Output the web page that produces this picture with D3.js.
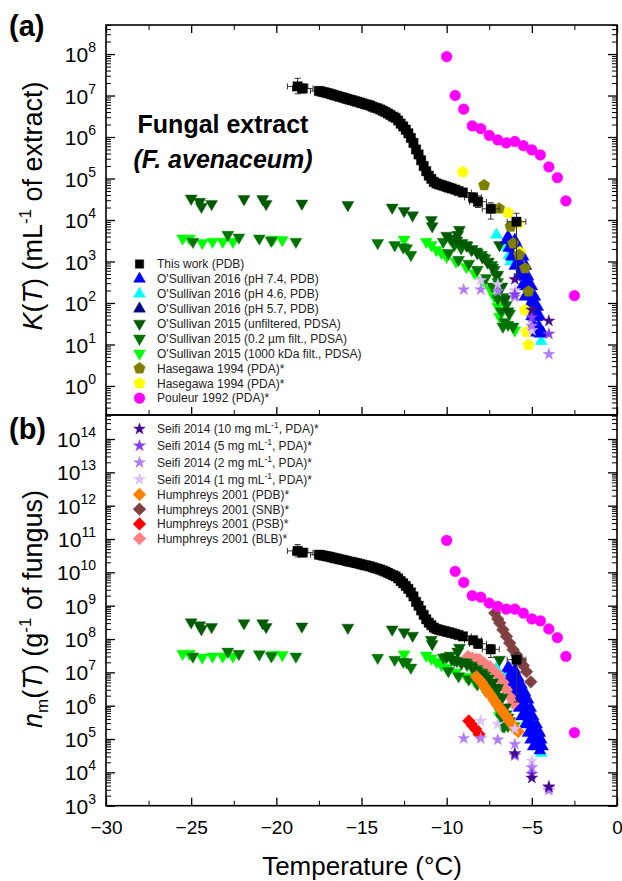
<!DOCTYPE html>
<html><head><meta charset="utf-8">
<script src="https://cdn.jsdelivr.net/npm/d3@7"></script>
<style>
body{margin:0;background:#fff}
svg{display:block}
text{font-family:Arial,"Liberation Sans",sans-serif}
</style>
</head><body>
<svg id="c" width="622" height="881"></svg>
<script>
// ---------------- DATA ----------------
const xTickValues = [-30,-25,-20,-15,-10,-5,0];
const yExpA = [0,1,2,3,4,5,6,7,8];
const yExpB = [3,4,5,6,7,8,9,10,11,12,13,14];

// This work (PDB)
const thisWorkT = [-18.75,-18.45,
 -17.5,-17.35,-17.2,-17.05,-16.9,-16.75,-16.6,-16.45,-16.3,-16.15,-16.0,-15.85,-15.7,-15.55,-15.4,-15.25,-15.1,-14.95,-14.8,-14.65,-14.5,-14.35,-14.2,-14.05,-13.9,-13.75,-13.6,-13.45,-13.3,-13.15,-13.0,-12.85,-12.7,-12.55,-12.4,-12.25,-12.1,-11.95,-11.8,-11.65,-11.5,-11.35,-11.2,-11.05,-10.9,-10.75,-10.6,-10.45,-10.3,
 -10.15,-10.0,-9.85,-9.7,-9.5,-9.3,-9.05,-8.45,-8.16,-7.41,-5.9];
const thisWorkK = [1.66e7,1.48e7,
 1.29e7,1.245e7,1.2e7,1.16e7,1.12e7,1.07e7,1.02e7,9.9e6,9.4e6,9.1e6,8.7e6,8.3e6,8.0e6,7.7e6,7.4e6,7.1e6,6.8e6,6.5e6,6.2e6,6.0e6,5.75e6,5.4e6,5.1e6,4.9e6,4.6e6,4.3e6,4.0e6,3.7e6,3.4e6,3.1e6,2.9e6,2.5e6,2.1e6,1.8e6,1.5e6,1.23e6,9.5e5,7.2e5,5.0e5,3.8e5,2.75e5,2.0e5,1.5e5,1.17e5,9.8e4,8.3e4,7.6e4,7.2e4,6.9e4,
 6.6e4,6.3e4,6.0e4,5.75e4,5.4e4,5.0e4,4.6e4,3.5e4,2.75e4,1.86e4,9.1e3];
const thisWorkN = [4.4e10,3.9e10,
 3.39e10,3.27e10,3.16e10,3.05e10,2.95e10,2.81e10,2.68e10,2.6e10,2.47e10,2.39e10,2.29e10,2.18e10,2.1e10,2.03e10,1.95e10,1.87e10,1.79e10,1.71e10,1.63e10,1.58e10,1.51e10,1.42e10,1.34e10,1.29e10,1.21e10,1.13e10,1.05e10,9.7e9,8.9e9,8.2e9,7.6e9,6.6e9,5.5e9,4.7e9,3.9e9,3.2e9,2.5e9,1.9e9,1.3e9,1.0e9,7.2e8,5.3e8,3.9e8,3.1e8,2.6e8,2.2e8,2.0e8,1.9e8,1.8e8,
 1.74e8,1.66e8,1.58e8,1.51e8,1.42e8,1.32e8,1.2e8,9.2e7,7.2e7,4.9e7,2.4e7];
// error bars: [T, value, dT, low, high]
const thisWorkErrA = [[-18.75,1.66e7,0.6,1.1e7,2.6e7],[-18.45,1.48e7,0.6,1.15e7,1.9e7],[-17.5,1.29e7,0.5,null,null],[-17.2,1.2e7,0.45,null,null],[-10.6,7.6e4,0.4,6.5e4,8.8e4],[-10.15,6.6e4,0.4,5.6e4,7.6e4],[-9.7,5.75e4,0.4,4.9e4,6.7e4],[-9.3,5.0e4,0.4,4.3e4,5.8e4],[-9.05,4.6e4,0.5,3.8e4,5.5e4],[-8.45,3.5e4,0.5,2.6e4,4.5e4],[-8.16,2.75e4,0.5,2.0e4,3.8e4],[-7.41,1.86e4,0.5,1.05e4,2.6e4],[-5.9,9.1e3,0.55,5.0e2,1.45e4]];
const thisWorkErrB = [[-18.75,4.4e10,0.6,2.9e10,6.8e10],[-18.45,3.9e10,0.6,3.0e10,5.0e10],[-17.5,3.39e10,0.5,null,null],[-17.2,3.16e10,0.45,null,null],[-10.6,2.0e8,0.4,1.7e8,2.3e8],[-10.15,1.74e8,0.4,1.5e8,2.0e8],[-9.7,1.51e8,0.4,1.3e8,1.75e8],[-9.3,1.32e8,0.4,1.13e8,1.52e8],[-9.05,1.2e8,0.5,1.0e8,1.45e8],[-8.45,9.2e7,0.5,6.8e7,1.2e8],[-8.16,7.2e7,0.5,5.3e7,1.0e8],[-7.41,4.9e7,0.5,2.8e7,6.8e7],[-5.9,2.4e7,0.55,1.3e6,3.8e7]];

// O'Sullivan 2016 (pH 7.4): centre line plus the two edges of the band
const os16pH74T = [-6.4,-6.3,-6.2,-6.1,-6.0,-5.9,-5.8,-5.7,-5.6,-5.5,-5.4,-5.3,-5.2,-5.1,-5.0,-4.9,-4.8,-4.7,-4.6,-4.53];
const os16pH74K = [4.0e3,3.2e3,2.6e3,2.2e3,1.9e3,1.6e3,1.3e3,950,710,560,430,330,250,190,140,100,71,45,28,18];
const os16pH74N = [1.4e7,1.26e7,9.5e6,7.6e6,5.9e6,4.3e6,3.2e6,2.3e6,1.7e6,1.26e6,9.3e5,6.8e5,5.0e5,3.7e5,2.7e5,2.0e5,1.4e5,1.0e5,7.1e4,4.5e4];
const os16pH74EdgeTA = [-6.49,-6.35,-6.2,-6.0,-5.8,-5.6,-5.41,-5.2,-5.02,-4.9,-4.76,-6.0,-5.75,-5.51,-5.35,-5.22,-5.0,-4.82,-4.65,-4.53,-4.34];
const os16pH74EdgeK  = [3.3e3,2.1e3,1.3e3,780,430,250,140,80,47,30,19,3.3e3,2.1e3,1.3e3,780,430,250,140,80,47,19];
const os16pH74EdgeTB = [-6.39,-6.3,-6.2,-6.05,-5.9,-5.75,-5.61,-5.4,-5.22,-5.07,-4.92,-6.0,-5.8,-5.61,-5.4,-5.22,-5.07,-4.92,-4.72,-4.53,-4.45,-4.37];
const os16pH74EdgeN  = [1.35e7,7.6e6,4.8e6,2.7e6,1.5e6,8.5e5,4.7e5,2.7e5,1.5e5,9.5e4,5.9e4,1.2e7,7.0e6,4.2e6,2.5e6,1.5e6,8.5e5,4.7e5,2.7e5,1.5e5,9.5e4,5.9e4];
const os16pH46T = [-7.08,-6.45,-6.35,-6.25,-5.2,-4.45];
const os16pH46K = [4.4e3,2.2e3,1.4e3,1.0e3,220,12];
const os16pH46N = [1.3e7,1.0e7,8.0e6,6.5e6,4.5e5,3.8e4];
const os16pH57T = [-6.1,-5.85,-5.55,-5.25,-4.95,-4.7];
const os16pH57K = [2.1e3,1.35e3,620,310,120,48];
const os16pH57N = [7.2e6,4.0e6,1.55e6,6.5e5,2.4e5,9.5e4];

// O'Sullivan 2015
const os15UnfT = [-25,-24.5,-24.4,-23.8,-21.9,-20.8,-20.6,-18.5,-15.8,-13.2,-12.5,-12,-10.9,-10.85,-9.25,-9.35,-6.9,
 -10.0,-9.7,-9.4,-9.1,-8.8,-8.5,-8.2,-7.9,-7.6,-7.3,-7.0,-6.75,-6.55,-6.4];
const os15UnfK = [3.3e4,2.75e4,2.1e4,2.45e4,3.2e4,3.2e4,2.45e4,2.5e4,2.3e4,2.0e4,1.66e4,1.3e4,1.0e4,7.1e3,5.8e3,4.4e3,2.5e3,
 4.2e3,3.5e3,3.2e3,2.8e3,2.4e3,2.0e3,1.6e3,1.26e3,950,710,480,250,126,63];
const os15UnfN = [3.2e8,2.6e8,2.0e8,2.3e8,3.0e8,3.0e8,2.3e8,2.4e8,2.2e8,1.95e8,1.6e8,1.26e8,9.5e7,7.1e7,5.5e7,4.2e7,2.4e7,
 2.9e7,2.45e7,2.2e7,2.0e7,1.7e7,1.4e7,1.1e7,8.8e6,6.6e6,5.0e6,3.4e6,1.75e6,8.8e5,4.4e5];
const os15F02T = [-24.9,-22.85,-22.2,-21.0,-20.3,-18.85,-14.05,-13.05,-12.55,-12.35,-12.1,-10.2,-9.8,-9.55,-9.15,-8.85,-8.55,-8.25,-7.95,-7.75,-7.55,-7.35,-7.2,-7.1,-7.0,-6.9,-6.7,-6.5,-6.3,-6.4,-6.1,-6.7,
 -9.9,-9.3,-8.7,-8.2,-7.7,-7.3,-7.0,-6.8,-6.6];
const os15F02K = [3.0e3,4.4e3,3.8e3,3.6e3,3.2e3,3.0e3,2.8e3,2.5e3,2.2e3,2.1e3,1.45e3,3.0e3,3.6e3,2.5e3,2.1e3,2.5e3,1.9e3,1.75e3,1.45e3,1.2e3,1.0e3,830,630,470,320,220,140,89,56,30,27,27,
 1.6e3,1.1e3,890,630,400,250,126,63,35];
const os15F02N = [3.0e7,4.2e7,3.6e7,3.5e7,3.1e7,3.0e7,2.75e7,2.4e7,2.1e7,2.0e7,1.4e7,2.8e7,3.2e7,2.3e7,1.9e7,2.0e7,1.6e7,1.26e7,1.0e7,7.9e6,6.3e6,5.0e6,3.5e6,2.6e6,1.9e6,1.3e6,8.9e5,5.6e5,3.5e5,2.5e5,2.4e5,2.4e5,
 1.1e7,7.7e6,6.2e6,4.4e6,2.8e6,1.75e6,8.8e5,4.4e5,2.45e5];
const os15KDaT = [-25.5,-25.1,-24.35,-23.75,-23.15,-22.55,-20.2,-19.65,-12.5,-11.2,-10.9,-10.6,-10.3,-10.0,-9.45,-8.85,-8.35,-7.85,-7.45,-7.2,-7.0,-6.9,-6.0];
const os15KDaK = [3.6e3,3.6e3,2.8e3,3.0e3,3.0e3,3.0e3,3.4e3,3.3e3,3.4e3,3.0e3,2.5e3,1.9e3,1.6e3,1.3e3,1.0e3,740,520,350,220,140,81,47,22];
const os15KDaN = [3.6e7,3.6e7,2.8e7,3.0e7,3.0e7,3.0e7,3.4e7,3.3e7,3.5e7,3.2e7,2.6e7,2.1e7,1.66e7,1.35e7,1.0e7,7.4e6,5.2e6,3.5e6,2.2e6,1.4e6,8.3e5,5.0e5,2.5e5];

// Hasegawa 1994
const hasOliveT = [-7.8,-6.92,-6.25,-6.1,-5.75,-5.4,-5.2];
const hasOliveK = [6.9e4,1.9e4,6.9e3,2.75e3,1.45e3,690,190];
const hasYellowT = [-9.05,-6.4,-5.8,-5.7,-5.4,-5.3,-5.2];
const hasYellowK = [1.45e5,1.5e4,8.3e3,1.7e3,68,20,9.8];

// Pouleur 1992
const pouleurT = [-10,-9.5,-9,-8.5,-8,-7.5,-7,-6.5,-6,-5.5,-5,-4.5,-4,-3.5,-3,-2.5];
const pouleurK = [8.7e7,1.0e7,4.7e6,1.86e6,1.6e6,1.1e6,8.5e5,7.2e5,7.8e5,6.2e5,4.9e5,3.7e5,1.9e5,1.05e5,2.9e4,150];
const pouleurN = [9.1e10,1.07e10,5.0e9,2.0e9,1.8e9,1.2e9,9.5e8,7.9e8,7.9e8,6.0e8,4.0e8,3.5e8,2.0e8,1.1e8,3.0e7,1.55e5];

// Seifi 2014
const seifi10T = [-6,-5,-4], seifi10K = [370,68,37], seifi10N = [3.7e4,6.8e3,3.7e3];
const seifi5T = [-6,-5,-4], seifi5K = [160,45,18], seifi5N = [3.2e4,8.9e3,3.5e3];
const seifi2T = [-9,-8,-7,-6,-5,-4], seifi2K = [210,210,190,140,28,5.8], seifi2N = [1.05e5,1.05e5,9.5e4,7.0e4,1.4e4,2.9e3];
const seifi1T = [-8,-7,-6,-5], seifi1K = [350,280,200,22], seifi1N = [3.5e5,2.8e5,2.0e5,2.2e4];

// Humphreys 2001 (panel b only)
const humPDBT = [-8.25,-8.1,-7.95,-7.8,-7.65,-7.5,-7.35,-7.2,-7.05,-6.9,-6.75,-6.6,-6.45,-6.3,-6.15,-6.0,-5.8];
const humPDBN = [7.4e6,6.0e6,5.0e6,3.8e6,3.0e6,2.3e6,1.86e6,1.4e6,1.1e6,8.9e5,7.1e5,5.5e5,4.4e5,3.4e5,2.7e5,2.1e5,1.66e5];
const humSNBT = [-7.18,-7.0,-6.88,-6.7,-6.49,-6.3,-6.1,-5.9,-5.71,-5.5,-5.31,-5.06];
const humSNBN = [6.0e8,4.0e8,3.0e8,1.9e8,1.2e8,7.6e7,4.8e7,3.4e7,2.4e7,1.6e7,1.05e7,5.2e6];
const humPSBT = [-8.7,-8.5,-8.3,-8.1];
const humPSBN = [3.5e5,2.6e5,2.0e5,1.4e5];
const humBLBT = [-8.75,-8.5,-8.25,-8.06,-7.8,-7.47,-7.2,-6.88,-6.7,-6.49,-6.3,-6.1];
const humBLBN = [3.0e7,2.7e7,2.5e7,2.4e7,1.9e7,1.5e7,1.07e7,7.4e6,5.0e6,3.0e6,1.86e6,1.17e6];

// legends
const legendA = [
 ["square","#000000","This work (PDB)"],
 ["triUp","#0000ff","O'Sullivan 2016 (pH 7.4, PDB)"],
 ["triUp","#00ffff","O'Sullivan 2016 (pH 4.6, PDB)"],
 ["triUp","#000080","O'Sullivan 2016 (pH 5.7, PDB)"],
 ["triDown","#005a00","O'Sullivan 2015 (unfiltered, PDSA)"],
 ["triDown","#007400","O'Sullivan 2015 (0.2 \u00b5m filt., PDSA)"],
 ["triDown","#00ff00","O'Sullivan 2015 (1000 kDa filt., PDSA)"],
 ["pentagon","#808000","Hasegawa 1994 (PDA)*"],
 ["pentagon","#ffff00","Hasegawa 1994 (PDA)*"],
 ["circle","#ff00ff","Pouleur 1992 (PDA)*"]
];
const legendB = [
 ["star","#420a8e","Seifi 2014 (10 mg mL^-1^, PDA)*"],
 ["star","#8a3cf0","Seifi 2014 (5 mg mL^-1^, PDA)*"],
 ["star","#b07cf5","Seifi 2014 (2 mg mL^-1^, PDA)*"],
 ["star","#dcc0fb","Seifi 2014 (1 mg mL^-1^, PDA)*"],
 ["diamond","#ff8000","Humphreys 2001 (PDB)*"],
 ["diamond","#804040","Humphreys 2001 (SNB)*"],
 ["diamond","#ff0000","Humphreys 2001 (PSB)*"],
 ["diamond","#ff8080","Humphreys 2001 (BLB)*"]
];

// ---------------- DRAW ----------------
const svg = d3.select('#c');
const X0 = 106, X1 = 617, A_TOP = 25, MID = 415, B_BOT = 805.7;
const x = d3.scaleLinear([-30,0],[X0,X1]);
const yA = d3.scaleLog([Math.pow(10,-0.7), Math.pow(10,8.7)],[MID,A_TOP]);
const yB = d3.scaleLog([1e3, Math.pow(10,14.72)],[B_BOT,MID]);

const pentagonType = {draw(ctx,size){const r=Math.sqrt(size/2.378);for(let i=0;i<5;i++){const a=-Math.PI/2+i*2*Math.PI/5;const px=r*Math.cos(a),py=r*Math.sin(a);if(i===0)ctx.moveTo(px,py);else ctx.lineTo(px,py);}ctx.closePath();}};
const shapeDef = {
  square:  {type:d3.symbolSquare, size:88, rot:0},
  triUp:   {type:d3.symbolTriangle, size:62, rot:0},
  triDown: {type:d3.symbolTriangle, size:62, rot:180},
  pentagon:{type:pentagonType, size:86, rot:0},
  circle:  {type:d3.symbolCircle, size:92, rot:0},
  star:    {type:d3.symbolStar, size:44, rot:0},
  diamond: {type:d3.symbolSquare, size:82, rot:45}
};
function drawSeries(g, ys, T, V, shape, color){
  const s = shapeDef[shape];
  const path = d3.symbol(s.type, s.size)();
  g.append('g').selectAll('path').data(d3.zip(T,V)).join('path')
    .attr('d', path)
    .attr('transform', d => `translate(${x(d[0])},${ys(d[1])}) rotate(${s.rot})`)
    .attr('fill', color).attr('stroke', color).attr('stroke-width', 0.4);
}
function drawErr(g, ys, errs){
  const eg = g.append('g').attr('stroke','#333').attr('stroke-width',1).attr('fill','none');
  errs.forEach(e => {
    const cx = x(e[0]), cy = ys(e[1]);
    const xl = x(e[0]-e[2]), xr = x(e[0]+e[2]);
    eg.append('line').attr('x1',xl).attr('x2',xr).attr('y1',cy).attr('y2',cy);
    eg.append('line').attr('x1',xl).attr('x2',xl).attr('y1',cy-3).attr('y2',cy+3);
    eg.append('line').attr('x1',xr).attr('x2',xr).attr('y1',cy-3).attr('y2',cy+3);
    if (e[3] !== null){
      const yl = ys(e[3]), yh = ys(e[4]);
      eg.append('line').attr('x1',cx).attr('x2',cx).attr('y1',yl).attr('y2',yh);
      eg.append('line').attr('x1',cx-3).attr('x2',cx+3).attr('y1',yl).attr('y2',yl);
      eg.append('line').attr('x1',cx-3).attr('x2',cx+3).attr('y1',yh).attr('y2',yh);
    }
  });
}

function minorsFor(scale){
  const [lo,hi] = scale.domain();
  const out = [];
  for (let e = Math.floor(Math.log10(lo)); e <= Math.ceil(Math.log10(hi)); e++)
    for (let k = 2; k <= 9; k++){ const v = k*Math.pow(10,e); if (v>=lo && v<=hi) out.push(v); }
  return out;
}
function yAxes(ys, exps){
  const majors = exps.map(e => Math.pow(10,e));
  const minors = minorsFor(ys);
  const L = svg.append('g').attr('transform',`translate(${X0},0)`)
    .call(d3.axisLeft(ys).tickValues(majors).tickSize(-9).tickSizeOuter(0).tickPadding(10))
    .attr('font-size',21).attr('font-family','Arial, Liberation Sans, sans-serif');
  L.select('.domain').remove();
  L.selectAll('.tick line').attr('stroke-width',1.3);
  L.selectAll('.tick text').attr('fill','#000').attr('dy','0.36em').each(function(d){
    const t = d3.select(this); const e = Math.round(Math.log10(d));
    t.text(null);
    t.append('tspan').text('10');
    t.append('tspan').attr('dy',-10).attr('font-size',14).text(e);
  });
  const Lm = svg.append('g').attr('transform',`translate(${X0},0)`)
    .call(d3.axisLeft(ys).tickValues(minors).tickSize(-5).tickSizeOuter(0).tickFormat(''));
  Lm.select('.domain').remove();
  const R = svg.append('g').attr('transform',`translate(${X1},0)`)
    .call(d3.axisRight(ys).tickValues(majors).tickSize(-9).tickSizeOuter(0).tickFormat(''));
  R.select('.domain').remove();
  R.selectAll('.tick line').attr('stroke-width',1.3);
  const Rm = svg.append('g').attr('transform',`translate(${X1},0)`)
    .call(d3.axisRight(ys).tickValues(minors).tickSize(-5).tickSizeOuter(0).tickFormat(''));
  Rm.select('.domain').remove();
}
function xAxis(yPos, top, labels){
  const minorVals = d3.range(-27.5, 0, 5);
  const mk = top ? d3.axisTop : d3.axisBottom;
  const g = svg.append('g').attr('transform',`translate(0,${yPos})`)
    .call(mk(x).tickValues(xTickValues).tickSize(-8).tickSizeOuter(0).tickPadding(14.5)
      .tickFormat(labels ? (d => d < 0 ? '\u2212' + Math.abs(d) : String(d)) : ''))
    .attr('font-size',19).attr('font-family','Arial, Liberation Sans, sans-serif');
  g.select('.domain').remove();
  g.selectAll('.tick line').attr('stroke-width',1.3);
  g.selectAll('.tick text').attr('fill','#000');
  const gm = svg.append('g').attr('transform',`translate(0,${yPos})`)
    .call(mk(x).tickValues(minorVals).tickSize(-5).tickSizeOuter(0).tickFormat(''));
  gm.select('.domain').remove();
}

// ----- panel a -----
const gA = svg.append('g');
drawSeries(gA, yA, os15KDaT, os15KDaK, 'triDown', '#00ff00');
drawSeries(gA, yA, os15F02T, os15F02K, 'triDown', '#007400');
drawSeries(gA, yA, os15UnfT, os15UnfK, 'triDown', '#005a00');
drawSeries(gA, yA, os16pH46T, os16pH46K, 'triUp', '#00ffff');
drawSeries(gA, yA, os16pH57T, os16pH57K, 'triUp', '#000080');
drawSeries(gA, yA, os16pH74EdgeTA, os16pH74EdgeK, 'triUp', '#0000ff');
drawSeries(gA, yA, os16pH74T, os16pH74K, 'triUp', '#0000ff');
drawSeries(gA, yA, hasYellowT, hasYellowK, 'pentagon', '#ffff00');
drawSeries(gA, yA, hasOliveT, hasOliveK, 'pentagon', '#808000');
drawSeries(gA, yA, pouleurT, pouleurK, 'circle', '#ff00ff');
drawSeries(gA, yA, seifi1T, seifi1K, 'star', '#dcc0fb');
drawSeries(gA, yA, seifi2T, seifi2K, 'star', '#b07cf5');
drawSeries(gA, yA, seifi5T, seifi5K, 'star', '#8a3cf0');
drawSeries(gA, yA, seifi10T, seifi10K, 'star', '#420a8e');
drawErr(gA, yA, thisWorkErrA);
drawSeries(gA, yA, thisWorkT, thisWorkK, 'square', '#000000');

// ----- panel b -----
const gB = svg.append('g');
drawSeries(gB, yB, os16pH46T, os16pH46N, 'triUp', '#00ffff');
drawSeries(gB, yB, os16pH57T, os16pH57N, 'triUp', '#000080');
drawSeries(gB, yB, os16pH74EdgeTB, os16pH74EdgeN, 'triUp', '#0000ff');
drawSeries(gB, yB, os16pH74T, os16pH74N, 'triUp', '#0000ff');
drawSeries(gB, yB, humBLBT, humBLBN, 'diamond', '#ff8080');
drawSeries(gB, yB, humSNBT, humSNBN, 'diamond', '#804040');
drawSeries(gB, yB, os15KDaT, os15KDaN, 'triDown', '#00ff00');
drawSeries(gB, yB, os15F02T, os15F02N, 'triDown', '#007400');
drawSeries(gB, yB, os15UnfT, os15UnfN, 'triDown', '#005a00');
drawSeries(gB, yB, humPSBT, humPSBN, 'diamond', '#ff0000');
drawSeries(gB, yB, humPDBT, humPDBN, 'diamond', '#ff8000');
drawSeries(gB, yB, pouleurT, pouleurN, 'circle', '#ff00ff');
drawSeries(gB, yB, seifi1T, seifi1N, 'star', '#dcc0fb');
drawSeries(gB, yB, seifi2T, seifi2N, 'star', '#b07cf5');
drawSeries(gB, yB, seifi5T, seifi5N, 'star', '#8a3cf0');
drawSeries(gB, yB, seifi10T, seifi10N, 'star', '#420a8e');
drawErr(gB, yB, thisWorkErrB);
drawSeries(gB, yB, thisWorkT, thisWorkN, 'square', '#000000');

// axes
yAxes(yA, yExpA);
yAxes(yB, yExpB);
xAxis(A_TOP, true, false);
xAxis(MID, false, false);
xAxis(B_BOT, false, true);

// frames
svg.append('rect').attr('x',X0).attr('y',A_TOP).attr('width',X1-X0).attr('height',MID-A_TOP)
  .attr('fill','none').attr('stroke','#000').attr('stroke-width',1.6);
svg.append('rect').attr('x',X0).attr('y',MID).attr('width',X1-X0).attr('height',B_BOT-MID)
  .attr('fill','none').attr('stroke','#000').attr('stroke-width',1.6);

// legends
function drawLegend(items, x0, ys){
  const g = svg.append('g');
  items.forEach((it,i) => {
    const s = shapeDef[it[0]];
    const yy = ys[i];
    const sz = it[0] === 'square' ? 72 : s.size;
    g.append('path').attr('d', d3.symbol(s.type, sz)())
      .attr('transform', `translate(${x0},${yy}) rotate(${s.rot})`)
      .attr('fill', it[1]).attr('stroke', it[1]).attr('stroke-width',0.4);
    const t = g.append('text').attr('x', x0+17.5).attr('y', yy+4.3).attr('font-size',12).attr('fill','#222');
    const parts = it[2].split('^');
    parts.forEach((p,j) => {
      if (j % 2 === 1) t.append('tspan').attr('dy',-5).attr('font-size',8.5).text(p);
      else t.append('tspan').attr('dy', j>0 ? 5 : 0).text(p);
    });
  });
}
drawLegend(legendA, 139.5, legendA.map((d,i) => 264 + i*14.9));
drawLegend(legendB, 139.5, legendB.map((d,i) => i < 4 ? 429 + i*16.8 : 494.5 + (i-4)*14.7));

// panel labels
svg.append('text').attr('x',9).attr('y',36).attr('font-size',29).attr('font-weight','bold').text('(a)');
svg.append('text').attr('x',9).attr('y',439).attr('font-size',29).attr('font-weight','bold').text('(b)');

// inscription
svg.append('text').attr('x',223).attr('y',133).attr('text-anchor','middle').attr('font-size',25).attr('font-weight','bold').text('Fungal extract');
svg.append('text').attr('x',223).attr('y',168).attr('text-anchor','middle').attr('font-size',25).attr('font-weight','bold').attr('font-style','italic').text('(F. avenaceum)');

// axis titles
const ta = svg.append('text').attr('transform','translate(42,206) rotate(-90)').attr('text-anchor','middle').attr('font-size',27);
ta.append('tspan').attr('font-style','italic').text('K');
ta.append('tspan').text('(');
ta.append('tspan').attr('font-style','italic').text('T');
ta.append('tspan').text(') (mL');
ta.append('tspan').attr('dy',-11).attr('font-size',17).text('-1');
ta.append('tspan').attr('dy',11).text(' of extract)');

const tb = svg.append('text').attr('transform','translate(42,609) rotate(-90)').attr('text-anchor','middle').attr('font-size',27);
tb.append('tspan').attr('font-style','italic').text('n');
tb.append('tspan').attr('dy',6).attr('font-size',17).text('m');
tb.append('tspan').attr('dy',-6).text('(');
tb.append('tspan').attr('font-style','italic').text('T');
tb.append('tspan').text(') (g');
tb.append('tspan').attr('dy',-11).attr('font-size',17).text('-1');
tb.append('tspan').attr('dy',11).text(' of fungus)');

svg.append('text').attr('x',362).attr('y',875).attr('text-anchor','middle').attr('font-size',26).text('Temperature (\u00b0C)');
</script>
</body></html>
